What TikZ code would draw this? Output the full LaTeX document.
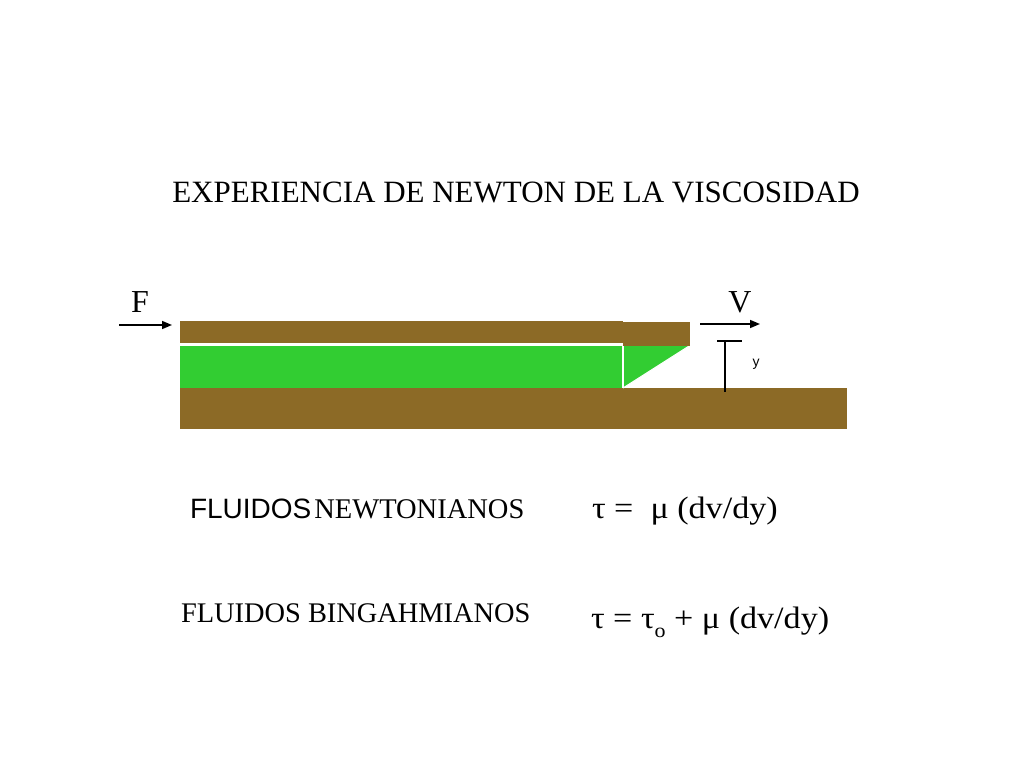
\documentclass[tikz,border=0pt]{standalone}
\usepackage{fontspec}
\setmainfont{Liberation Serif}
\newfontfamily\arialf{Liberation Sans}
\usetikzlibrary{arrows.meta}
\definecolor{plate}{RGB}{140,106,38}
\definecolor{fluid}{RGB}{50,205,50}
\tikzset{
  platefill/.style={fill=plate,draw=none},
  fluidfill/.style={fill=fluid,draw=none},
  forcearrow/.style={line width=1.6pt,-{Triangle[length=10pt,width=8pt]}},
  txt/.style={inner sep=0pt,outer sep=0pt},
  sep/.style={white,line width=1.5pt},
}
\begin{document}
\begin{tikzpicture}[x=1pt,y=-1pt]
\useasboundingbox[fill=white] (0,0) rectangle (1024,768);
% plates and fluid
\fill[platefill] (180,388) rectangle (847,429);
\fill[fluidfill] (180,346) rectangle (623,388);
\fill[fluidfill] (623,346) -- (689,346) -- (623,388) -- cycle;
\draw[white,line width=1pt] (689,346) -- (623,388);
\fill[platefill] (180,321) rectangle (623,343);
\fill[platefill] (623,322) rectangle (690,346);
\draw[sep] (180,344.5) -- (623,344.5);
\draw[sep] (623,346) -- (623,388);
% arrows
\coordinate (Fs) at (119,325);
\coordinate (Fe) at (172,325);
\coordinate (Vs) at (700,324);
\coordinate (Ve) at (760,324);
\draw[forcearrow] (Fs) -- (Fe);
\draw[forcearrow] (Vs) -- (Ve);
% y marker
\coordinate (ya) at (717,341);
\coordinate (yb) at (742,341);
\coordinate (yt) at (725,341);
\coordinate (ybot) at (725,392);
\draw[line width=1.1pt] (ya) -- (yb);
\draw[line width=1.1pt] (yt) -- (ybot);
% texts
\node[txt,anchor=base] (title) at (516,202) {\fontsize{31}{36}\selectfont EXPERIENCIA DE NEWTON DE LA VISCOSIDAD};
\node[txt,anchor=base] (F) at (140,312) {\fontsize{32}{36}\selectfont F};
\node[txt,anchor=base] (V) at (740,312) {\fontsize{32}{36}\selectfont V};
\node[txt] (ylab) at (756,364) {\fontsize{14}{16}\selectfont\arialf y};
\node[txt,anchor=base west] (newt) at (190,518) {{\fontsize{28}{32}\selectfont\arialf FLUIDOS}\hspace{3pt}{\fontsize{28.5}{32}\selectfont NEWTONIANOS}};
\node[txt,anchor=base west] (eq1) at (592,518) {\scalebox{1.10}[1]{\fontsize{31}{36}\selectfont τ =\ \ μ (dv/dy)}};
\node[txt,anchor=base west] (bing) at (181,622) {\fontsize{28.4}{32}\selectfont FLUIDOS BINGAHMIANOS};
\node[txt,anchor=base west] (eq2) at (591,628) {\scalebox{1.10}[1]{\fontsize{31}{36}\selectfont τ = τ\raisebox{-9pt}{\fontsize{20}{20}\selectfont o} + μ (dv/dy)}};
\end{tikzpicture}
\end{document}
